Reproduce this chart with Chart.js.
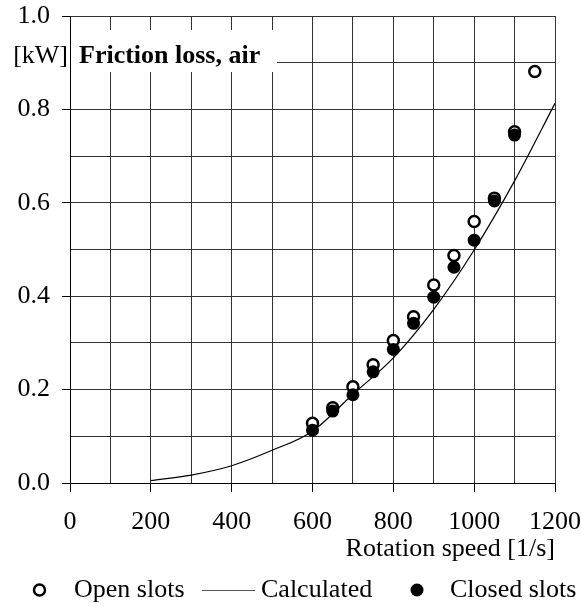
<!DOCTYPE html>
<html>
<head>
<meta charset="utf-8">
<script src="https://cdn.jsdelivr.net/npm/chart.js@4.4.1/dist/chart.umd.min.js"></script>
<style>
  html, body { margin: 0; padding: 0; background: #fff; }
  #wrap { width: 581px; height: 607px; }
</style>
</head>
<body>
<div id="wrap"><canvas id="frictionChart"></canvas></div>
<script>
// measured friction loss [kW] vs rotation speed [1/s]
var speedOpen = [600, 650, 700, 750, 800, 850, 900, 950, 1000, 1050, 1100, 1150];
var openSlots = [0.128, 0.161, 0.206, 0.253, 0.305, 0.356, 0.424, 0.487, 0.560, 0.610, 0.752, 0.881];
var speedClosed = [600, 650, 700, 750, 800, 850, 900, 950, 1000, 1050, 1100];
var closedSlots = [0.113, 0.154, 0.189, 0.238, 0.286, 0.342, 0.398, 0.462, 0.520, 0.604, 0.745];
// calculated curve
var speedCalc = [200, 300, 400, 500, 600, 700, 800, 900, 1000, 1100, 1200];
var calculated = [0.005, 0.017, 0.037, 0.070, 0.111, 0.190, 0.268, 0.372, 0.499, 0.647, 0.813];
// labelled ticks (grid is every 100 / every 0.1)
var xTickLabels = [0, 200, 400, 600, 800, 1000, 1200];
var yTickLabels = [0.0, 0.2, 0.4, 0.6, 0.8, 1.0];

var FONT = '"Liberation Serif", "Times New Roman", serif';

function pairs(xs, ys) {
  return xs.map(function (x, i) { return { x: x, y: ys[i] }; });
}
function isXLabel(v) { return xTickLabels.indexOf(Math.round(v)) >= 0; }
function isYLabel(v) {
  return yTickLabels.some(function (t) { return Math.abs(t - v) < 1e-6; });
}

// white box with the title inside the plot + unit label
var titleBox = {
  id: 'titleBox',
  beforeDatasetsDraw: function (chart) {
    var ctx = chart.ctx, a = chart.chartArea;
    ctx.save();
    ctx.fillStyle = '#fff';
    ctx.fillRect(a.left + 1, a.top + 14, 206, 42);
    ctx.fillStyle = '#000';
    ctx.textBaseline = 'alphabetic';
    ctx.font = 'bold 26px ' + FONT;
    ctx.fillText('Friction loss, air', a.left + 9, a.top + 47);
    ctx.font = '26px ' + FONT;
    ctx.textAlign = 'right';
    ctx.fillText('[kW]', a.left - 2, a.top + 47);
    ctx.restore();
  }
};

// one-row legend under the axis title: symbol, then label
var legendRow = {
  id: 'legendRow',
  afterDraw: function (chart) {
    var ctx = chart.ctx;
    var ds = chart.data.datasets;
    var yMid = 590, yText = 597;
    ctx.save();
    // open slots
    ctx.beginPath();
    ctx.arc(39.5, yMid, ds[0].pointRadius, 0, Math.PI * 2);
    ctx.fillStyle = ds[0].pointBackgroundColor; ctx.fill();
    ctx.lineWidth = ds[0].pointBorderWidth; ctx.strokeStyle = ds[0].pointBorderColor; ctx.stroke();
    // calculated
    ctx.beginPath();
    ctx.moveTo(202, yMid + 0.5); ctx.lineTo(255, yMid + 0.5);
    ctx.lineWidth = 1; ctx.strokeStyle = '#555'; ctx.stroke();
    // closed slots
    ctx.beginPath();
    ctx.arc(417, yMid, ds[2].pointRadius, 0, Math.PI * 2);
    ctx.fillStyle = ds[2].pointBackgroundColor; ctx.fill();
    ctx.fillStyle = '#000';
    ctx.font = '26px ' + FONT;
    ctx.textBaseline = 'alphabetic';
    ctx.fillText(ds[0].label, 74, yText);
    ctx.fillText(ds[1].label, 261, yText);
    ctx.fillText(ds[2].label, 450, yText);
    ctx.restore();
  }
};

var ctx = document.getElementById('frictionChart').getContext('2d');
var chart = new Chart(ctx, {
  type: 'scatter',
  data: {
    datasets: [
      {
        label: 'Open slots',
        data: pairs(speedOpen, openSlots),
        pointStyle: 'circle',
        pointRadius: 5.5,
        pointBorderWidth: 2.5,
        pointBackgroundColor: '#fff',
        pointBorderColor: '#000',
        order: 1
      },
      {
        label: 'Calculated',
        data: pairs(speedCalc, calculated),
        showLine: true,
        pointRadius: 0,
        borderColor: '#000',
        borderWidth: 1.2,
        cubicInterpolationMode: 'monotone',
        order: 2
      },
      {
        label: 'Closed slots',
        data: pairs(speedClosed, closedSlots),
        pointStyle: 'circle',
        pointRadius: 6.5,
        pointBorderWidth: 0,
        pointBackgroundColor: '#000',
        pointBorderColor: '#000',
        order: 0
      }
    ]
  },
  options: {
    responsive: true,
    maintainAspectRatio: false,
    animation: false,
    layout: { padding: { left: 0, right: 0, top: 0, bottom: 40 } },
    plugins: {
      tooltip: { enabled: false },
      legend: { display: false }
    },
    scales: {
      x: {
        type: 'linear',
        min: 0,
        max: 1200,
        afterFit: function (scale) {
          scale.height = 84;
          scale.paddingRight = 26;
        },
        ticks: {
          stepSize: 100,
          autoSkip: false,
          maxRotation: 0,
          padding: 17,
          color: '#000',
          font: { family: FONT, size: 26, lineHeight: 1 },
          callback: function (v) { return isXLabel(v) ? String(v) : ''; }
        },
        grid: {
          color: '#333',
          lineWidth: 1,
          tickLength: 9,
          tickColor: function (c) { return c.tick && isXLabel(c.tick.value) ? '#000' : 'transparent'; }
        },
        border: { color: '#000', width: 1 },
        title: {
          display: true,
          text: 'Rotation speed [1/s]',
          align: 'end',
          color: '#000',
          font: { family: FONT, size: 26, lineHeight: 1 },
          padding: { top: 0, bottom: 5 }
        }
      },
      y: {
        min: 0,
        max: 1,
        afterFit: function (scale) {
          scale.width = 70;
          scale.paddingTop = 16;
        },
        ticks: {
          stepSize: 0.1,
          autoSkip: false,
          padding: 12,
          color: '#000',
          font: { family: FONT, size: 26, lineHeight: 1 },
          callback: function (v) { return isYLabel(v) ? v.toFixed(1) : ''; }
        },
        grid: {
          color: '#333',
          lineWidth: 1,
          tickLength: 8,
          tickColor: function (c) { return c.tick && isYLabel(c.tick.value) ? '#000' : 'transparent'; }
        },
        border: { color: '#000', width: 1 }
      }
    }
  },
  plugins: [titleBox, legendRow]
});
</script>
</body>
</html>
